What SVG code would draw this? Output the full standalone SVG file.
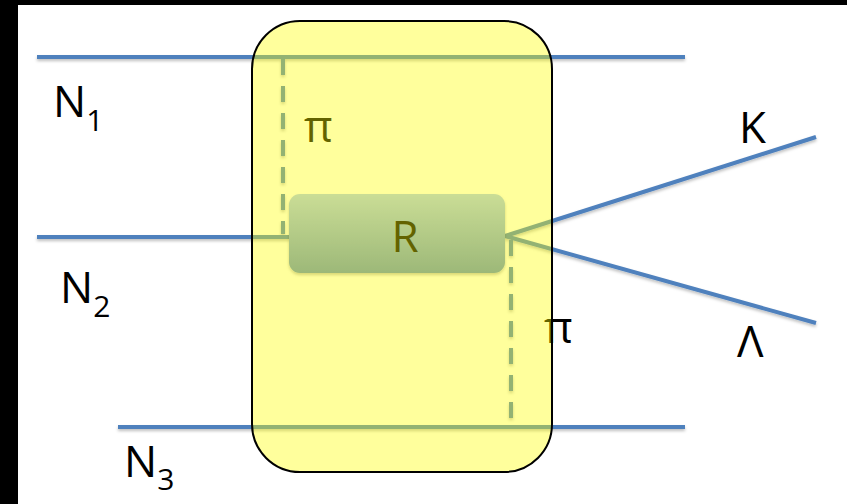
<svg xmlns="http://www.w3.org/2000/svg" width="847" height="504" viewBox="0 0 847 504">
<defs>
<style>
.ln{stroke:#4f81bd;stroke-width:4;fill:none;stroke-linecap:butt}
.dash{stroke:#4f81bd;stroke-width:4;fill:none;stroke-dasharray:16 11}
.lbl{font-family:"Open Sans","Liberation Sans",sans-serif;font-size:44px;fill:#000}
.sub{font-size:30px}
</style>
<linearGradient id="rg" x1="0" y1="0" x2="0" y2="1">
<stop offset="0" stop-color="#a9c8f5"/>
<stop offset="1" stop-color="#5f8cc5"/>
</linearGradient>
<filter id="sh" x="-5%" y="-50%" width="110%" height="200%">
<feDropShadow dx="0" dy="2" stdDeviation="1.5" flood-color="#000" flood-opacity="0.25"/>
</filter>
</defs>
<rect x="0" y="0" width="847" height="504" fill="#fff"/>
<rect x="0" y="0" width="847" height="5" fill="#000"/>
<rect x="0" y="0" width="18" height="504" fill="#000"/>
<g id="connectors" filter="url(#sh)">
<line class="ln" x1="37" y1="57" x2="685" y2="57"/>
<line class="ln" x1="37" y1="237" x2="290" y2="237"/>
<line class="ln" x1="118" y1="427" x2="685" y2="427"/>
<line class="ln" x1="505" y1="236" x2="816" y2="137"/>
<line class="ln" x1="505" y1="236" x2="816" y2="323"/>
<line class="dash" x1="283" y1="59" x2="283" y2="234"/>
<line class="dash" x1="511" y1="240" x2="511" y2="418"/>
</g>
<g id="R">
<rect x="289" y="194" width="216" height="79" rx="11" fill="url(#rg)" filter="url(#sh)"/>
<text class="lbl" x="405" y="252" text-anchor="middle">R</text>
</g>
<g id="labels">
<text class="lbl" x="53" y="117">N<tspan class="sub" dy="14">1</tspan></text>
<text class="lbl" x="60" y="303">N<tspan class="sub" dy="14">2</tspan></text>
<text class="lbl" x="124" y="477">N<tspan class="sub" dy="13">3</tspan></text>
<text class="lbl" x="304" y="142">π</text>
<text class="lbl" x="544" y="343">π</text>
<text class="lbl" x="739" y="143">K</text>
<text class="lbl" x="737" y="357">Λ</text>
</g>
<g id="region">
<rect x="252" y="21" width="300" height="451" rx="48" fill="#ffff00" fill-opacity="0.39" stroke="#000" stroke-width="2"/>
</g>
</svg>
